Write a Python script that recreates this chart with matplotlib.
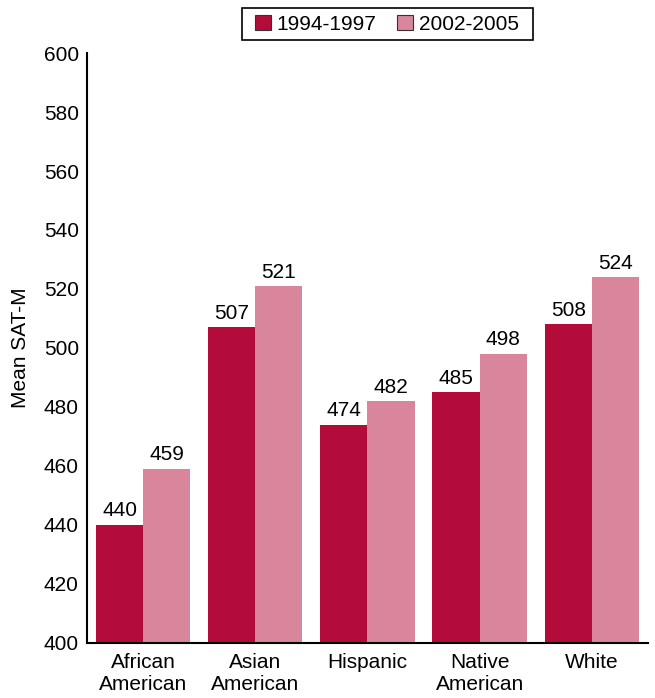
import numpy as np
import matplotlib

matplotlib.use('Agg')
import matplotlib.pyplot as plt
from matplotlib.patches import Rectangle

# Data
groups = ['African\nAmerican', 'Asian\nAmerican', 'Hispanic', 'Native\nAmerican', 'White']
period_labels = ['1994-1997', '2002-2005']
sat_early = [440, 507, 474, 485, 508]
sat_late = [459, 521, 482, 498, 524]

colors = ['#B30C3A', '#D9869C']

plt.rcParams['font.family'] = ['Liberation Sans', 'DejaVu Sans']
plt.rcParams['font.size'] = 15

fig = plt.figure(figsize=(6.55, 6.98), dpi=100)
ax = fig.add_axes([0.133, 0.079, 0.856, 0.845])

x = np.arange(len(groups))
w = 0.42
b1 = ax.bar(x - w / 2, np.array(sat_early) - 400, w, bottom=400, color=colors[0], label=period_labels[0])
b2 = ax.bar(x + w / 2, np.array(sat_late) - 400, w, bottom=400, color=colors[1], label=period_labels[1])

for bars, vals in [(b1, sat_early), (b2, sat_late)]:
    for r, v in zip(bars, vals):
        ax.text(r.get_x() + r.get_width() / 2, v + 1.5, str(v), ha='center', va='bottom', fontsize=15)

ax.set_xlim(-0.5, len(groups) - 1 + 0.5)
ax.set_ylim(400, 600)
ax.set_yticks(range(400, 601, 20))
ax.set_xticks(x)
ax.set_xticklabels(groups, linespacing=1.25)
ax.tick_params(length=0, pad=7)
ax.tick_params(axis='y', pad=6)
ax.set_ylabel('Mean SAT-M', labelpad=10)

ax.spines['top'].set_visible(False)
ax.spines['right'].set_visible(False)
ax.spines['left'].set_linewidth(1.5)
ax.spines['bottom'].set_linewidth(1.5)

# legend, frame drawn by hand so it gets wider side padding
leg = fig.legend(handles=[b1, b2], loc='upper center', bbox_to_anchor=(0.591, 1.003), ncol=2,
                 frameon=False, handlelength=0.75, handleheight=0.75,
                 handletextpad=0.3, columnspacing=1.0, borderpad=0.3, fontsize=15)
for h in leg.legend_handles:
    h.set_edgecolor('#333333')
    h.set_linewidth(0.8)

fig.canvas.draw()
bb = leg.get_window_extent()
padx = 7
fig.patches.append(Rectangle((bb.x0 - padx, bb.y0), bb.width + 2 * padx, bb.height,
                             transform=None, fill=False, edgecolor='black', linewidth=1.2))

plt.savefig('out.png', dpi=100)
